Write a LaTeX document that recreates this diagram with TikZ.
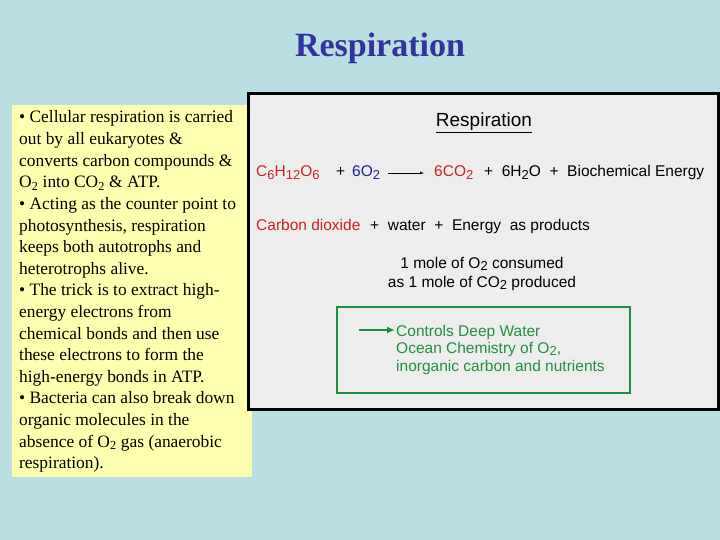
\documentclass[tikz,border=0pt]{standalone}
\usepackage{fontspec}
\setmainfont{Liberation Serif}
\setsansfont{Liberation Sans}
\usetikzlibrary{arrows.meta}
\definecolor{bg}{HTML}{B9DFE3}
\definecolor{yel}{HTML}{FFFFB0}
\definecolor{pan}{HTML}{EDEDED}
\definecolor{ttl}{HTML}{3333A0}
\definecolor{rd}{HTML}{D02020}
\definecolor{bl}{HTML}{2020A0}
\definecolor{gr}{HTML}{209040}
\newcommand{\bsub}[1]{\raisebox{-0.3ex}{\fontsize{13}{14}\selectfont #1}}
\begin{document}
\begin{tikzpicture}[x=1pt,y=-1pt,
 lt/.style={anchor=base west,inner sep=0pt,font=\fontsize{17.4}{19}\selectfont},
 rt/.style={anchor=base west,inner sep=0pt,font=\sffamily\fontsize{15.5}{17}\selectfont},
 ct/.style={anchor=base,inner sep=0pt,font=\sffamily\fontsize{15.5}{17}\selectfont}]
\useasboundingbox (0,0) rectangle (720,540);
\fill[bg] (0,0) rectangle (720,540);
\node[font=\bfseries\fontsize{34}{36}\selectfont,text=ttl] (title) at (380,48) {Respiration};
\fill[yel] (12,105) rectangle (252,477);
\foreach \t [count=\i from 0] in {%
{• Cellular respiration is carried},{out by all eukaryotes \&},{converts carbon compounds \&},
{O\textsubscript{2} into CO\textsubscript{2} \& ATP.},{• Acting as the counter point to},{photosynthesis, respiration},
{keeps both autotrophs and},{heterotrophs alive.},{• The trick is to extract high-},
{energy electrons from},{chemical bonds and then use},{these electrons to form the},
{high-energy bonds in ATP.},{• Bacteria can also break down},{organic molecules in the},
{absence of O\textsubscript{2} gas (anaerobic},{respiration).}}
 \node[lt] (l\i) at (19,{123+21.6*\i}) {\t};
\draw[black,line width=3pt,fill=pan] (248,94) rectangle (718,409);
\node[ct,font=\sffamily\fontsize{19}{21}\selectfont] (rt) at (484,127) {\underline{Respiration}};
\node[rt,text=rd] (glu) at (256,177) {C\bsub{6}H\bsub{12}O\bsub{6}};
\node[rt] (p1) at (336,177) {+};
\node[rt,text=bl] (o2) at (352,177) {6O\bsub{2}};
\node[rt,text=rd] (co2) at (434,177) {6CO\bsub{2}};
\draw[-latex] ([xshift=8pt,yshift=4pt]o2.base east) -- ([xshift=-10pt,yshift=4pt]co2.base west);
\node[rt] (rest) at (484,177) {+\ \ 6H\bsub{2}O\ \ +\ \ Biochemical Energy};
\node[rt,text=rd] (cd) at (256,230) {Carbon dioxide};
\node[rt] (cd2) at (370,230) {+\ \ water\ \ +\ \ Energy\ \ as products};
\node[ct] (m1) at (482,268) {1 mole of O\bsub{2} consumed};
\node[ct] (m2) at (482,287) {as 1 mole of CO\bsub{2} produced};
\draw[gr,line width=1.5pt] (337,307) rectangle (630,393);
\node[rt,text=gr] (g1) at (396,336) {Controls Deep Water};
\node[rt,text=gr] (g2) at (396,353) {Ocean Chemistry of O\bsub{2},};
\node[rt,text=gr] (g3) at (396,371) {inorganic carbon and nutrients};
\coordinate (ga) at (359,330);
\draw[gr,line width=2.5pt,-{Latex[length=8pt,width=7pt]}] (ga) -- ([xshift=-1pt,yshift=6pt]g1.base west);
\end{tikzpicture}
\end{document}
